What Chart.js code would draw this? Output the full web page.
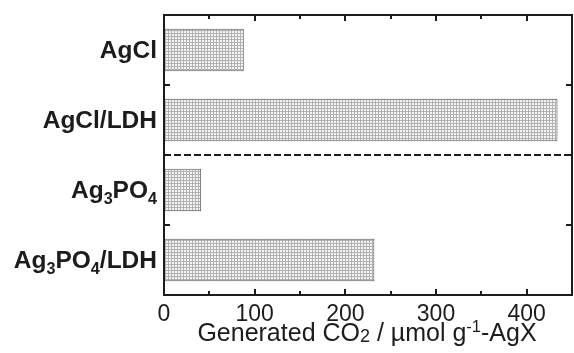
<!DOCTYPE html>
<html lang="en">
<head>
    <meta charset="UTF-8">
    <title>Generated CO2</title>
    <script src="https://cdn.jsdelivr.net/npm/chart.js"></script>
    <style>
        body { margin: 0; overflow: hidden; background: #fff; }
        canvas { display: block; }
    </style>
</head>
<body>
    <canvas id="co2Chart" width="578" height="353"></canvas>
    <script>
        // categories, written as rich text parts: [text, 'sub' | 'sup' | '']
        const categories = ['AgCl', 'AgCl/LDH', 'Ag3PO4', 'Ag3PO4/LDH'];
        const categoryParts = [
            [['AgCl', '']],
            [['AgCl/LDH', '']],
            [['Ag', ''], ['3', 'sub'], ['PO', ''], ['4', 'sub']],
            [['Ag', ''], ['3', 'sub'], ['PO', ''], ['4', 'sub'], ['/LDH', '']]
        ];
        const co2Values = [88, 434, 41, 232];
        const xMajorTicks = [0, 100, 200, 300, 400];
        const xMin = 0, xMax = 450;
        const axisTitleParts = [['Generated CO', ''], ['2', 'low'], [' / \u00b5mol g', ''], ['-1', 'sup'], ['-AgX', '']];

        const FONT = '"Liberation Sans", Arial, sans-serif';
        const INK = '#1c1c1c';

        // fine grey cross-hatch like the original
        function hatchPattern(ctx) {
            const c = document.createElement('canvas');
            c.width = 3; c.height = 3;
            const g = c.getContext('2d');
            g.fillStyle = '#f4f4f4';
            g.fillRect(0, 0, 3, 3);
            g.fillStyle = '#b2b2b2';
            g.fillRect(0, 0, 3, 1);
            g.fillRect(0, 0, 1, 3);
            return ctx.createPattern(c, 'repeat');
        }

        // draw text with sub/superscripts, aligned right or centered
        function richText(ctx, parts, x, y, size, weight, align) {
            const segs = parts.map(([t, kind]) => {
                const s = kind === '' ? size : (kind === 'low' ? size * 0.72 : size * 0.66);
                ctx.font = weight + ' ' + s + 'px ' + FONT;
                return { t, kind, s, w: ctx.measureText(t).width };
            });
            const total = segs.reduce((a, s) => a + s.w, 0);
            let cx = align === 'right' ? x - total : x - total / 2;
            ctx.textAlign = 'left';
            ctx.textBaseline = 'alphabetic';
            segs.forEach(s => {
                ctx.font = weight + ' ' + s.s + 'px ' + FONT;
                let dy = 0;
                if (s.kind === 'sub') dy = size * 0.26;
                if (s.kind === 'low') dy = size * 0.04;
                if (s.kind === 'sup') dy = -size * 0.36;
                ctx.fillText(s.t, cx, y + dy);
                cx += s.w;
            });
        }

        const framePlugin = {
            id: 'frame',
            afterDraw(chart) {
                const { ctx, chartArea: a, scales: { x, y } } = chart;
                ctx.save();
                ctx.strokeStyle = INK;
                ctx.lineWidth = 2;
                ctx.strokeRect(a.left, a.top, a.right - a.left, a.bottom - a.top);

                // x ticks, inward, top and bottom
                for (let v = xMin; v <= xMax; v += 50) {
                    const px = Math.round(x.getPixelForValue(v));
                    const major = v % 100 === 0;
                    ctx.beginPath();
                    ctx.moveTo(px, a.bottom); ctx.lineTo(px, a.bottom - (major ? 6 : 4));
                    ctx.moveTo(px, a.top); ctx.lineTo(px, a.top + (major ? 6 : 4));
                    ctx.stroke();
                }

                // y ticks between categories, and the dashed separator
                const step = (a.bottom - a.top) / categories.length;
                [1, 3].forEach(i => {
                    const py = Math.round(a.top + step * i);
                    ctx.beginPath();
                    ctx.moveTo(a.left, py); ctx.lineTo(a.left + 6, py);
                    ctx.moveTo(a.right, py); ctx.lineTo(a.right - 6, py);
                    ctx.stroke();
                });
                const sepY = Math.round(a.top + step * 2);
                ctx.setLineDash([7, 3]);
                ctx.beginPath();
                ctx.moveTo(a.left, sepY); ctx.lineTo(a.right, sepY);
                ctx.stroke();
                ctx.setLineDash([]);

                // category labels
                ctx.fillStyle = INK;
                categoryParts.forEach((parts, i) => {
                    const py = y.getPixelForValue(i);
                    richText(ctx, parts, a.left - 7, py + 8, 24.5, 'bold', 'right');
                });

                // axis title
                richText(ctx, axisTitleParts, (a.left + a.right) / 2 - 1, 341, 25, 'normal', 'center');
                ctx.restore();
            }
        };

        const ctx = document.getElementById('co2Chart').getContext('2d');
        new Chart(ctx, {
            type: 'bar',
            data: {
                labels: categories,
                datasets: [{
                    data: co2Values,
                    backgroundColor: hatchPattern(ctx),
                    borderColor: '#555',
                    borderWidth: 1,
                    borderSkipped: false,
                    barPercentage: 0.61,
                    categoryPercentage: 1
                }]
            },
            options: {
                indexAxis: 'y',
                responsive: false,
                animation: false,
                layout: { padding: { top: 15, right: 2, left: 0, bottom: 0 } },
                plugins: { legend: { display: false }, tooltip: { enabled: false } },
                scales: {
                    x: {
                        min: xMin,
                        max: xMax,
                        grid: { display: false, drawTicks: false },
                        border: { display: false },
                        ticks: {
                            stepSize: 50,
                            autoSkip: false,
                            maxRotation: 0,
                            padding: 6,
                            color: INK,
                            font: { family: FONT, size: 23 },
                            callback: v => xMajorTicks.includes(v) ? String(v) : ''
                        },
                        afterFit: s => { s.height = 58; }
                    },
                    y: {
                        grid: { display: false },
                        border: { display: false },
                        ticks: { display: false },
                        afterFit: s => { s.width = 164; }
                    }
                }
            },
            plugins: [framePlugin]
        });
    </script>
</body>
</html>
